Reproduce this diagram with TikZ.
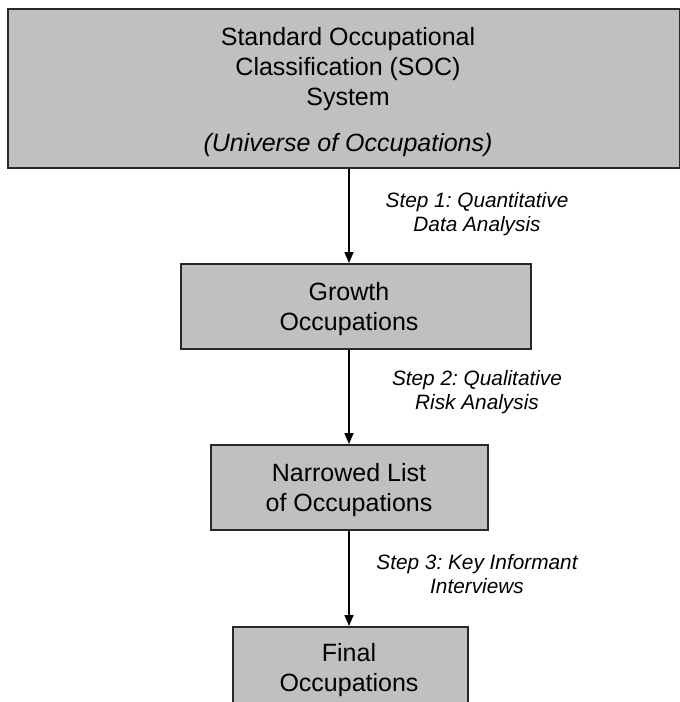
\documentclass[tikz,border=0pt]{standalone}
\usepackage{fontspec}
\setmainfont{Liberation Sans}
\usetikzlibrary{arrows.meta}
\definecolor{boxgray}{RGB}{192,192,192}
\definecolor{edge}{RGB}{40,40,40}
\frenchspacing
\begin{document}
\begin{tikzpicture}[x=1pt,y=-1pt,
  stagebox/.style={draw=edge,line width=2pt,fill=boxgray,inner sep=0pt,anchor=north west},
  stagetext/.style={align=center,font=\fontsize{25}{30}\selectfont,inner sep=0pt},
  steplabel/.style={align=center,font=\fontsize{20.8}{24}\selectfont\itshape,inner sep=0pt},
  flow/.style={line width=1.5pt,-{Triangle[width=9pt,length=11pt]}}]
\useasboundingbox (0,0) rectangle (680,702);
\clip (0,0) rectangle (680,702);
\coordinate (axis) at (349,0);

% stage boxes
\node[stagebox,minimum width=672pt,minimum height=159pt] (soc) at (7,8) {};
\node[stagebox,minimum width=350pt,minimum height=85pt] (growth) at (180,263) {};
\node[stagebox,minimum width=277pt,minimum height=85pt] (narrow) at (210,444) {};
\node[stagebox,minimum width=235pt,minimum height=100pt] (final) at (232,626) {};

% stage texts
\node[stagetext] (soctext) at (348,92) {Standard Occupational\\Classification (SOC)\\System\\[16pt]\textit{(Universe of Occupations)}};
\node[stagetext] (growthtext) at (349,309) {Growth\\Occupations};
\node[stagetext] (narrowtext) at (349,490) {Narrowed List\\of Occupations};
\node[stagetext] (finaltext) at (349,670) {Final\\Occupations};

% step labels
\node[steplabel] (step1) at (477,214) {Step 1: Quantitative\\Data Analysis};
\node[steplabel] (step2) at (477,392) {Step 2: Qualitative\\Risk Analysis};
\node[steplabel] (step3) at (477,574) {Step 3: Key Informant\\Interviews};

% connectors
\draw[flow] (soc.south -| axis) -- (growth.north -| axis);
\draw[flow] (growth.south -| axis) -- (narrow.north -| axis);
\draw[flow] (narrow.south -| axis) -- (final.north -| axis);
\end{tikzpicture}
\end{document}
